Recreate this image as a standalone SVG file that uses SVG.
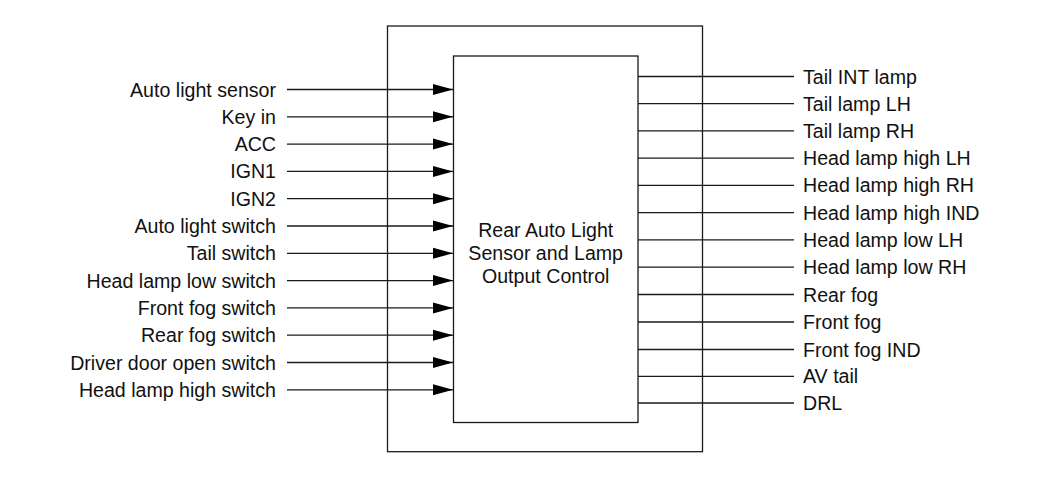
<svg xmlns="http://www.w3.org/2000/svg" width="1050" height="480" viewBox="0 0 1050 480">
<style>
.t{font-family:"Liberation Sans",Arial,sans-serif;font-size:19.6px;fill:#111}
.l{text-anchor:end}
.c{text-anchor:middle}
.w{stroke:#1a1a1a;stroke-width:1.3;fill:none}
.b{stroke:#1a1a1a;stroke-width:1.3;fill:#fff}
</style>
<defs>
<marker id="ah" markerUnits="userSpaceOnUse" markerWidth="21" markerHeight="12" refX="20" refY="6" orient="auto">
<path d="M0,0.5 L20,6 L0,11.5 Z" fill="#000"/>
</marker>
</defs>
<rect width="1050" height="480" fill="#fff"/>
<g id="outer-box"><rect class="b" x="387.5" y="26" width="315" height="425.7"/></g>
<g id="connectors">
<line class="w" x1="287" y1="89.5" x2="453" y2="89.5" marker-end="url(#ah)"/>
<line class="w" x1="287" y1="116.8" x2="453" y2="116.8" marker-end="url(#ah)"/>
<line class="w" x1="287" y1="144.1" x2="453" y2="144.1" marker-end="url(#ah)"/>
<line class="w" x1="287" y1="171.4" x2="453" y2="171.4" marker-end="url(#ah)"/>
<line class="w" x1="287" y1="198.7" x2="453" y2="198.7" marker-end="url(#ah)"/>
<line class="w" x1="287" y1="226" x2="453" y2="226" marker-end="url(#ah)"/>
<line class="w" x1="287" y1="253.3" x2="453" y2="253.3" marker-end="url(#ah)"/>
<line class="w" x1="287" y1="280.6" x2="453" y2="280.6" marker-end="url(#ah)"/>
<line class="w" x1="287" y1="307.9" x2="453" y2="307.9" marker-end="url(#ah)"/>
<line class="w" x1="287" y1="335.2" x2="453" y2="335.2" marker-end="url(#ah)"/>
<line class="w" x1="287" y1="362.5" x2="453" y2="362.5" marker-end="url(#ah)"/>
<line class="w" x1="287" y1="389.8" x2="453" y2="389.8" marker-end="url(#ah)"/>
<line class="w" x1="638" y1="76.5" x2="794" y2="76.5"/>
<line class="w" x1="638" y1="103.7" x2="794" y2="103.7"/>
<line class="w" x1="638" y1="130.9" x2="794" y2="130.9"/>
<line class="w" x1="638" y1="158.2" x2="794" y2="158.2"/>
<line class="w" x1="638" y1="185.4" x2="794" y2="185.4"/>
<line class="w" x1="638" y1="212.6" x2="794" y2="212.6"/>
<line class="w" x1="638" y1="239.9" x2="794" y2="239.9"/>
<line class="w" x1="638" y1="267.1" x2="794" y2="267.1"/>
<line class="w" x1="638" y1="294.5" x2="794" y2="294.5"/>
<line class="w" x1="638" y1="322" x2="794" y2="322"/>
<line class="w" x1="638" y1="349.5" x2="794" y2="349.5"/>
<line class="w" x1="638" y1="376.3" x2="794" y2="376.3"/>
<line class="w" x1="638" y1="403" x2="794" y2="403"/>
</g>
<g id="control-unit">
<rect class="b" x="453.5" y="56" width="184.5" height="366.5"/>
<text class="t c" x="545.7" y="236.5">Rear Auto Light</text>
<text class="t c" x="545.7" y="259.5">Sensor and Lamp</text>
<text class="t c" x="545.7" y="282.5">Output Control</text>
</g>
<g id="inputs">
<text class="t l" x="276" y="96.5">Auto light sensor</text>
<text class="t l" x="276" y="123.8">Key in</text>
<text class="t l" x="276" y="151.1">ACC</text>
<text class="t l" x="276" y="178.4">IGN1</text>
<text class="t l" x="276" y="205.7">IGN2</text>
<text class="t l" x="276" y="233">Auto light switch</text>
<text class="t l" x="276" y="260.3">Tail switch</text>
<text class="t l" x="276" y="287.6">Head lamp low switch</text>
<text class="t l" x="276" y="314.9">Front fog switch</text>
<text class="t l" x="276" y="342.2">Rear fog switch</text>
<text class="t l" x="276" y="369.5">Driver door open switch</text>
<text class="t l" x="276" y="396.8">Head lamp high switch</text>
</g>
<g id="outputs">
<text class="t" x="803" y="83.5">Tail INT lamp</text>
<text class="t" x="803" y="110.7">Tail lamp LH</text>
<text class="t" x="803" y="137.9">Tail lamp RH</text>
<text class="t" x="803" y="165.2">Head lamp high LH</text>
<text class="t" x="803" y="192.4">Head lamp high RH</text>
<text class="t" x="803" y="219.6">Head lamp high IND</text>
<text class="t" x="803" y="246.9">Head lamp low LH</text>
<text class="t" x="803" y="274.1">Head lamp low RH</text>
<text class="t" x="803" y="301.5">Rear fog</text>
<text class="t" x="803" y="329">Front fog</text>
<text class="t" x="803" y="356.5">Front fog IND</text>
<text class="t" x="803" y="383.3">AV tail</text>
<text class="t" x="803" y="410">DRL</text>
</g>
</svg>
